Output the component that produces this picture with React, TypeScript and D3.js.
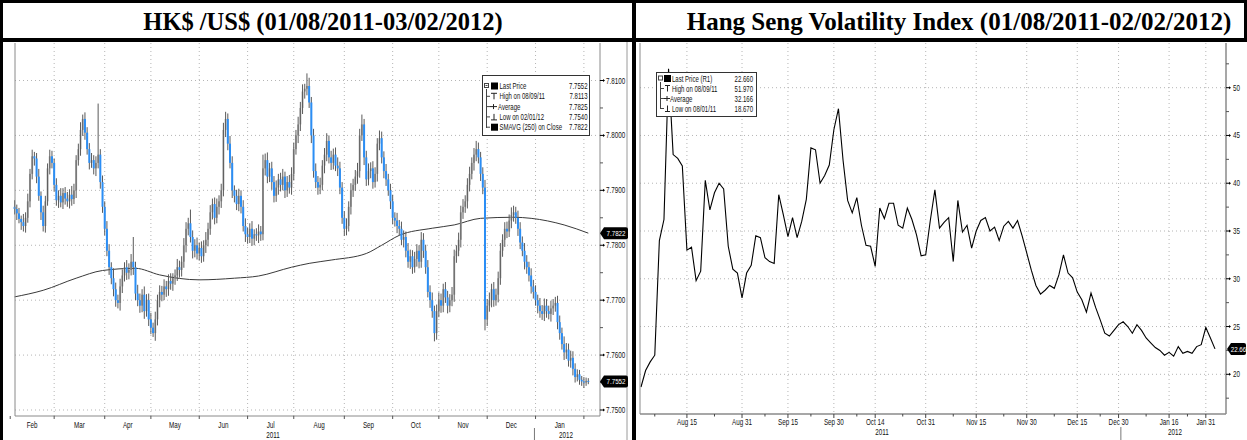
import React from "react";
import * as d3 from "d3";

// ---------- HK$/US$ daily bars (values in pips above 7.7000) ----------
const fxBase = 7.7;
const fxFirstOpen = 870;
const fxClose = [
  // Feb 2011 (from Feb 3)
  866, 858, 848, 842, 835, 850, 880, 930, 962, 958, 925, 890, 860, 835, 880, 940, 962, 950,
  // Mar
  910, 882, 890, 878, 895, 885, 880, 892, 884, 900, 955, 975, 1010, 1030, 1005, 975, 950, 955, 940, 950, 965, 915, 870,
  // Apr
  830, 790, 760, 740, 720, 700, 695, 725, 745, 760, 750, 755, 770, 760, 712, 700, 690, 710, 680, 700, 665,
  // May
  650, 640, 665, 700, 715, 710, 725, 720, 735, 730, 740, 745, 760, 755, 770, 800, 830, 840, 815, 790, 800, 785,
  // Jun
  795, 780, 800, 810, 830, 860, 875, 850, 870, 880, 900, 1010, 1030, 985, 950, 900, 890, 875, 890, 870, 835, 820,
  // Jul
  815, 830, 812, 820, 818, 825, 820, 940, 955, 925, 940, 915, 890, 905, 920, 910, 925, 900, 915, 905, 930,
  // Aug
  975, 1000, 1020, 1050, 1080, 1085, 1090, 1060, 1000, 935, 915, 905, 910, 945, 965, 990, 960, 950, 965, 945, 940, 905, 850,
  // Sep
  830, 835, 870, 900, 910, 925, 935, 1000, 1020, 960, 920, 935, 940, 915, 930, 985, 995, 960, 935, 920, 900, 880,
  // Oct
  850, 845, 835, 830, 810, 815, 790, 770, 780, 760, 775, 790, 770, 810, 790, 760, 715, 700, 680, 640, 680,
  // Nov
  700, 690, 720, 705, 690, 700, 710, 780, 790, 810, 860, 870, 880, 910, 930, 950, 965, 975, 960, 930, 905, 665,
  // Dec
  690, 700, 720, 700, 710, 740, 790, 810, 830, 825, 845, 855, 860, 850, 830, 805, 790, 770, 760, 745, 725, 715,
  // Jan 2012
  700, 690, 680, 675, 690, 680, 675, 685, 690, 695, 660, 640, 620, 605, 610, 590, 595, 575, 560, 565, 555, 552,
  // Feb 2012
  550, 553, 552,
];
const fxWickUp = [
  12, 8, 10, 6, 15, 10, 14, 9, 12, 8, 10, 14, 8, 12, 10, 9, 12, 10,
  8, 12, 10, 14, 9, 11, 12, 10, 16, 12, 9, 10, 14, 8, 12, 10, 11, 13, 9, 12, 93, 10, 12,
  10, 14, 12, 9, 18, 12, 10, 14, 11, 9, 13, 12, 14, 45, 10, 16, 12, 10, 15, 11, 12,
  12, 9, 14, 10, 12, 11, 13, 10, 12, 14, 9, 11, 15, 12, 10, 13, 12, 10, 25, 12, 11, 14,
  10, 12, 9, 14, 11, 13, 10, 12, 15, 11, 12, 13, 13, 10, 14, 12, 9, 11, 13, 10, 12, 14,
  12, 10, 14, 9, 11, 13, 10, 25, 12, 14, 10, 12, 11, 13, 10, 12, 14, 9, 11, 13, 12,
  12, 10, 14, 11, 13, 9, 23, 15, 10, 12, 14, 11, 13, 10, 12, 14, 10, 12, 11, 13, 15, 12, 10,
  12, 14, 10, 13, 11, 12, 15, 12, 18, 10, 12, 14, 11, 13, 12, 10, 14, 12, 11, 13, 10, 12,
  12, 10, 14, 11, 13, 12, 10, 14, 12, 11, 13, 12, 10, 14, 12, 11, 13, 12, 14, 10, 12,
  14, 12, 10, 13, 12, 11, 14, 12, 10, 13, 12, 14, 11, 12, 13, 10, 12, 15, 12, 10, 12, 14,
  12, 14, 10, 13, 11, 12, 14, 10, 12, 13, 11, 14, 12, 10, 13, 12, 11, 14, 12, 10, 13, 12,
  12, 10, 14, 11, 13, 12, 10, 14, 12, 11, 13, 12, 10, 14, 12, 11, 13, 12, 10, 9, 8, 7,
  8, 6, 5,
];
const fxWickDown = [
  10, 12, 8, 14, 10, 12, 9, 11, 10, 13, 12, 9, 14, 10, 12, 8, 11, 10,
  12, 10, 14, 9, 12, 11, 10, 13, 12, 9, 14, 10, 12, 11, 13, 10, 12, 9, 11, 14, 10, 12, 11,
  12, 10, 14, 11, 13, 12, 10, 14, 12, 11, 13, 12, 10, 14, 12, 11, 13, 12, 14, 10, 12,
  12, 7, 14, 11, 13, 12, 10, 14, 12, 11, 13, 12, 10, 14, 12, 11, 13, 12, 10, 14, 12, 11,
  13, 12, 10, 14, 12, 11, 13, 12, 10, 14, 12, 11, 13, 12, 10, 14, 12, 11, 13, 12, 10, 14,
  12, 11, 13, 12, 10, 14, 12, 11, 13, 12, 10, 14, 12, 11, 13, 12, 10, 14, 12, 11, 13,
  12, 10, 14, 12, 11, 13, 12, 10, 14, 12, 11, 13, 12, 10, 14, 12, 11, 13, 12, 10, 14, 12, 11,
  13, 12, 10, 14, 12, 11, 13, 12, 10, 14, 12, 11, 13, 12, 10, 14, 12, 11, 13, 12, 10, 14,
  12, 11, 13, 12, 10, 14, 12, 11, 13, 12, 10, 14, 12, 11, 13, 12, 10, 14, 12, 15, 12,
  11, 13, 12, 10, 14, 12, 11, 13, 12, 10, 14, 12, 11, 13, 12, 10, 14, 12, 11, 13, 12, 20,
  12, 11, 13, 12, 10, 14, 12, 11, 13, 12, 10, 14, 12, 11, 13, 12, 10, 14, 12, 11, 13, 12,
  10, 14, 12, 11, 13, 12, 10, 14, 12, 11, 13, 12, 10, 14, 12, 11, 13, 12, 10, 8, 9, 8,
  10, 6, 5,
];
// 250-day simple moving average readings (bar index, pips above 7.7000)
const smaIdx = [0, 13, 28, 40, 55, 66, 84, 100, 111, 126, 134, 144, 160, 167, 175, 190, 200, 212, 227, 235, 250, 261];
const smaVal = [706, 718, 740, 754, 758, 746, 737, 740, 744, 760, 767, 773, 785, 800, 818, 831, 837, 849, 851, 849, 837, 822];

const fxTicks = [7.75, 7.76, 7.77, 7.78, 7.79, 7.8, 7.81];
const fxMonthLabels = ["Feb", "Mar", "Apr", "May", "Jun", "Jul", "Aug", "Sep", "Oct", "Nov", "Dec", "Jan"];
const fxLegendLabels = ["Last Price", "High on 08/09/11", "Average", "Low on 02/01/12", "SMAVG (250) on Close"];
const fxLegendValues = ["7.7552", "7.8113", "7.7825", "7.7540", "7.7822"];
const fxTags = [{ v: 7.7822, t: "7.7822" }, { v: 7.7552, t: "7.7552" }];

// ---------- Hang Seng Volatility Index daily closes ----------
const vhsiValues = [
  18.67, 20.4, 21.3, 22.0, 34.0, 36.2, 51.97, 43.0, 42.6, 41.8,
  33.0, 33.3, 29.8, 30.8, 40.3, 37.2, 39.0, 40.0, 39.4, 33.4,
  31.0, 30.6, 28.0, 30.6, 31.4, 34.5, 34.3, 32.2, 31.8, 31.6,
  38.8, 36.7, 34.4, 36.4, 34.3, 36.0, 38.3, 43.7, 43.5, 40.0,
  40.8, 41.9, 45.6, 47.8, 42.4, 38.2, 36.9, 38.5, 35.6, 33.5,
  33.4, 31.3, 37.4, 36.3, 37.9, 37.9, 35.6, 35.3, 37.4, 36.2,
  34.6, 32.4, 32.5, 36.1, 39.3, 35.3, 35.9, 36.4, 31.8, 38.2,
  34.9, 35.6, 33.2, 35.0, 36.1, 36.4, 35.0, 35.4, 34.0, 35.5,
  36.0, 35.3, 36.1, 34.5, 32.7, 30.9, 29.3, 28.4, 28.8, 29.3,
  29.0, 30.4, 32.5, 30.6, 30.1, 28.6, 27.8, 26.5, 28.5, 27.0,
  25.7, 24.3, 24.0, 24.6, 25.2, 25.5, 25.0, 24.3, 25.2, 24.6,
  23.8, 23.3, 22.8, 22.5, 22.0, 22.3, 21.9, 22.9, 22.2, 22.4,
  22.2, 22.9, 23.1, 24.9, 23.8, 22.66,
];
const vhsiHolidays = ["2011-09-13", "2011-09-29", "2011-10-05", "2011-12-26", "2011-12-27", "2012-01-23", "2012-01-24", "2012-01-25"];
const vhsiTickDates = ["2011-08-15", "2011-08-31", "2011-09-15", "2011-09-30", "2011-10-14", "2011-10-31", "2011-11-15", "2011-11-30", "2011-12-15", "2011-12-30", "2012-01-16", "2012-01-31"];
const vhsiTickLabels = ["Aug 15", "Aug 31", "Sep 15", "Sep 30", "Oct 14", "Oct 31", "Nov 15", "Nov 30", "Dec 15", "Dec 30", "Jan 16", "Jan 31"];
const vhsiTicks = [20, 25, 30, 35, 40, 45, 50];
const vhsiLegendLabels = ["Last Price (R1)", "High on 08/09/11", "Average", "Low on 08/01/11"];
const vhsiLegendValues = ["22.660", "51.970", "32.166", "18.670"];

// ---------- helpers ----------
const DAY = 86400000;
const iso = (s: string) => Date.parse(s + "T00:00:00Z");
function tradingDays(start: string, end: string, holidays: string[] = []): number[] {
  const hs = new Set(holidays.map(iso));
  const out: number[] = [];
  for (let t = iso(start); t <= iso(end); t += DAY) {
    const wd = new Date(t).getUTCDay();
    if (wd !== 0 && wd !== 6 && !hs.has(t)) out.push(t);
  }
  return out;
}
const FONT = "'Liberation Sans','Arial',sans-serif";
const GRID = "#b5b5b5";
const AXIS = "#8a8a8a";

// narrow (horizontally compressed) small text, like the terminal bitmap font
function NT({ x, y, children, anchor = "start", size = 8.5, fill = "#111", sx = 0.74 }: any) {
  return (
    <text transform={`translate(${x},${y}) scale(${sx},1)`} fontSize={size} fontFamily={FONT} fill={fill} textAnchor={anchor}>
      {children}
    </text>
  );
}

function Tag({ x, y, text, w }: { x: number; y: number; text: string; w: number }) {
  return (
    <g>
      <path d={`M${x},${y} L${x + 4},${y - 6} L${x + w},${y - 6} Q${x + w + 2},${y - 6} ${x + w + 2},${y - 4} L${x + w + 2},${y + 4} Q${x + w + 2},${y + 6} ${x + w},${y + 6} L${x + 4},${y + 6} Z`} fill="#000" />
      <NT x={x + 4 + (w - 2) / 2} y={y + 3} anchor="middle" fill="#fff" size={8} sx={0.78}>{text}</NT>
    </g>
  );
}

function LeftChart() {
  const ext = tradingDays("2011-01-31", "2012-03-02");
  const off = ext.indexOf(iso("2011-02-03"));
  const wdIdx = (s: string) => ext.findIndex((t) => t >= iso(s)) - off;
  const n = fxClose.length;
  const xL = d3.scaleLinear().domain([0, 261]).range([14.6, 588.3]);
  const yL = d3.scaleLinear().domain([fxBase + 0.05, fxBase + 0.11]).range([410, 80.5]);
  const py = (p: number) => yL(fxBase + p / 10000);
  const top = 43, bottom = 416, left = 15, axisX = 600;

  const monthStarts = ["2011-02-01", "2011-03-01", "2011-04-01", "2011-05-02", "2011-06-01", "2011-07-01", "2011-08-01", "2011-09-01", "2011-10-03", "2011-11-01", "2011-12-01", "2012-01-02", "2012-02-01"].map(wdIdx);

  const bars = d3.range(n).map((i) => {
    const o = i === 0 ? fxFirstOpen : fxClose[i - 1];
    const c = fxClose[i];
    return { i, o, c, h: Math.max(o, c) + fxWickUp[i], l: Math.min(o, c) - fxWickDown[i] };
  });
  const sma = d3.line<number>().x((_, k) => xL(smaIdx[k])).y((v) => py(v)).curve(d3.curveMonotoneX)(smaVal) || "";
  const minor = d3.range(fxTicks.length - 1).map((k) => (fxTicks[k] + fxTicks[k + 1]) / 2);
  const yearSep = (xL(monthStarts[11]) + xL(monthStarts[11] - 1)) / 2;

  return (
    <g>
      {fxTicks.map((t) => (
        <line key={"hg" + t} x1={left} x2={axisX} y1={yL(t)} y2={yL(t)} stroke={GRID} strokeDasharray="1,3" />
      ))}
      {monthStarts.slice(1).map((m) => (
        <line key={"vg" + m} x1={xL(m)} x2={xL(m)} y1={top} y2={bottom} stroke={GRID} strokeDasharray="1,3" />
      ))}
      <path d={sma} fill="none" stroke="#3a3a3a" strokeWidth={1} />
      {bars.map((b) => {
        const down = b.c < b.o;
        const yT = py(Math.max(b.o, b.c));
        const yB = py(Math.min(b.o, b.c));
        const x = xL(b.i);
        const wick = <line x1={x} x2={x} y1={py(b.h)} y2={py(b.l)} stroke="#5a5a5a" strokeWidth={1} />;
        const body = <rect x={x - 1} y={yT} width={2} height={Math.max(1, yB - yT)} fill={down ? "#2b8ef5" : "#b0b0b0"} />;
        return down ? (
          <g key={b.i}>{wick}{body}</g>
        ) : (
          <g key={b.i}>{body}{wick}</g>
        );
      })}
      <line x1={left} x2={left} y1={top} y2={bottom} stroke={AXIS} />
      <line x1={left} x2={axisX} y1={bottom} y2={bottom} stroke={AXIS} />
      <line x1={axisX} x2={axisX} y1={top} y2={bottom} stroke={AXIS} />
      <line x1={627} x2={627} y1={41} y2={440} stroke="#9a9a9a" />
      {fxTicks.map((t) => (
        <g key={"yt" + t}>
          <line x1={axisX} x2={axisX + 3} y1={yL(t)} y2={yL(t)} stroke="#000" />
          <path d={`M${axisX + 3},${yL(t) - 1.5} L${axisX + 5},${yL(t)} L${axisX + 3},${yL(t) + 1.5} Z`} fill="#000" />
          <NT x={axisX + 6} y={yL(t) + 3}>{t.toFixed(4)}</NT>
        </g>
      ))}
      {minor.map((t) => (
        <line key={"ym" + t} x1={axisX} x2={axisX + 3} y1={yL(t)} y2={yL(t)} stroke="#555" />
      ))}
      {monthStarts.map((m) => (
        <line key={"xt" + m} x1={xL(m)} x2={xL(m)} y1={bottom} y2={bottom + 3} stroke="#555" />
      ))}
      {fxMonthLabels.map((lab, k) => (
        <NT key={lab + k} x={(xL(monthStarts[k]) + xL(monthStarts[k + 1])) / 2} y={428} anchor="middle">{lab}</NT>
      ))}
      <NT x={273} y={438} anchor="middle">2011</NT>
      <line x1={yearSep} x2={yearSep} y1={428} y2={440} stroke="#777" />
      <NT x={566} y={438} anchor="middle">2012</NT>
      {fxTags.map((tg) => (
        <Tag key={tg.t} x={axisX} y={yL(tg.v)} text={tg.t} w={26} />
      ))}
      {/* legend */}
      <rect x={482.5} y={75.5} width={107} height={60} fill="#fff" stroke="#333" />
      <line x1={486.5} x2={486.5} y1={89} y2={128} stroke="#444" />
      <rect x={484.5} y={83.5} width={4} height={4} fill="#fff" stroke="#444" />
      <line x1={485.5} x2={487.5} y1={85.5} y2={85.5} stroke="#444" />
      {fxLegendLabels.map((lab, k) => {
        const ry = 86 + k * 10.3;
        return (
          <g key={lab}>
            {k > 0 && <line x1={486.5} x2={490} y1={ry} y2={ry} stroke="#444" />}
            {(k === 0 || k === 4) && <rect x={491} y={ry - 3.5} width={7} height={7} fill="#000" />}
            {k === 1 && <path d={`M${491},${ry - 3} L${497},${ry - 3} M${494},${ry - 3} L${494},${ry + 3}`} stroke="#222" fill="none" />}
            {k === 2 && <path d={`M${490},${ry} L${497},${ry} M${493.5},${ry - 2.5} L${493.5},${ry + 2.5}`} stroke="#222" fill="none" />}
            {k === 3 && <path d={`M${494},${ry - 3} L${494},${ry + 3} M${491},${ry + 3} L${497},${ry + 3}`} stroke="#222" fill="none" />}
            <NT x={k === 2 ? 498 : 499.5} y={ry + 3} sx={0.71}>{lab}</NT>
            <NT x={587.5} y={ry + 3} anchor="end" sx={0.71}>{fxLegendValues[k]}</NT>
          </g>
        );
      })}
    </g>
  );
}

function RightChart() {
  const days = tradingDays("2011-08-01", "2012-02-02", vhsiHolidays);
  const n = vhsiValues.length;
  const xR = d3.scaleLinear().domain([0, n - 1]).range([641, 1215]);
  const yR = d3.scaleLinear().domain([20, 50]).range([374.3, 87.7]);
  const top = 43, bottom = 414, left = 640, axisX = 1226;
  const tickIdx = vhsiTickDates.map((s) => days.indexOf(iso(s)));
  const line = d3.line<number>().x((_, i) => xR(i)).y((v) => yR(v))(vhsiValues) || "";
  const minorY = [17.5, 22.5, 27.5, 32.5, 37.5, 42.5, 47.5, 52.5];
  const minorX = [3].concat(d3.range(tickIdx.length - 1).map((k) => Math.round((tickIdx[k] + tickIdx[k + 1]) / 2)));
  const firstJan = days.findIndex((t) => t >= iso("2012-01-01"));
  const yearSep = (xR(firstJan) + xR(firstJan - 1)) / 2;
  const last = vhsiValues[n - 1];
  return (
    <g>
      {vhsiTicks.map((t) => (
        <line key={"hg" + t} x1={left} x2={axisX} y1={yR(t)} y2={yR(t)} stroke={GRID} strokeDasharray="1,3" />
      ))}
      {tickIdx.map((i) => (
        <line key={"vg" + i} x1={xR(i)} x2={xR(i)} y1={top} y2={bottom} stroke={GRID} strokeDasharray="1,3" />
      ))}
      <path d={line} fill="none" stroke="#000" strokeWidth={1.1} />
      <line x1={left} x2={left} y1={top} y2={bottom} stroke={AXIS} />
      <line x1={left} x2={axisX} y1={bottom} y2={bottom} stroke={AXIS} strokeWidth={1.5} />
      <line x1={axisX} x2={axisX} y1={top} y2={bottom} stroke={AXIS} strokeWidth={1.5} />
      {vhsiTicks.map((t) => (
        <g key={"yt" + t}>
          <line x1={axisX} x2={axisX + 3} y1={yR(t)} y2={yR(t)} stroke="#000" />
          <path d={`M${axisX + 3},${yR(t) - 1.5} L${axisX + 5},${yR(t)} L${axisX + 3},${yR(t) + 1.5} Z`} fill="#000" />
          <NT x={axisX + 7} y={yR(t) + 3}>{t}</NT>
        </g>
      ))}
      {minorY.map((t) => (
        <line key={"ym" + t} x1={axisX} x2={axisX + 3} y1={yR(t)} y2={yR(t)} stroke="#555" />
      ))}
      {tickIdx.map((i) => (
        <line key={"xt" + i} x1={xR(i)} x2={xR(i)} y1={bottom} y2={bottom + 4} stroke="#444" />
      ))}
      {minorX.map((i) => (
        <line key={"xm" + i} x1={xR(i)} x2={xR(i)} y1={bottom} y2={bottom + 2.5} stroke="#444" />
      ))}
      {vhsiTickLabels.map((lab, k) => (
        <NT key={lab} x={xR(tickIdx[k])} y={425} anchor="middle">{lab}</NT>
      ))}
      <NT x={882} y={435} anchor="middle">2011</NT>
      <line x1={yearSep} x2={yearSep} y1={427} y2={440} stroke="#777" />
      <NT x={1175} y={435} anchor="middle">2012</NT>
      <Tag x={axisX + 1} y={yR(last)} text={last.toFixed(2)} w={17} />
      {/* legend */}
      <rect x={656.5} y={72.5} width={100} height={44} fill="#fff" stroke="#333" />
      <line x1={660.5} x2={660.5} y1={82} y2={109} stroke="#444" />
      <rect x={658.5} y={76} width={4} height={4} fill="#fff" stroke="#444" />
      {vhsiLegendLabels.map((lab, k) => {
        const ry = 78.5 + k * 10;
        return (
          <g key={lab}>
            {k > 0 && <line x1={660.5} x2={664} y1={ry} y2={ry} stroke="#444" />}
            {k === 0 && <rect x={664} y={ry - 3.5} width={7} height={7} fill="#000" />}
            {k === 1 && <path d={`M${665},${ry - 3} L${670},${ry - 3} M${667.5},${ry - 3} L${667.5},${ry + 3}`} stroke="#222" fill="none" />}
            {k === 2 && <path d={`M${664},${ry} L${670},${ry} M${667},${ry - 2.5} L${667},${ry + 2.5}`} stroke="#222" fill="none" />}
            {k === 3 && <path d={`M${667.5},${ry - 3} L${667.5},${ry + 3} M${665},${ry + 3} L${670},${ry + 3}`} stroke="#222" fill="none" />}
            <NT x={k === 2 ? 670 : 672} y={ry + 3} sx={0.71}>{lab}</NT>
            <NT x={753} y={ry + 3} anchor="end" sx={0.71}>{vhsiLegendValues[k]}</NT>
          </g>
        );
      })}
    </g>
  );
}

export default function App() {
  return (
    <div style={{ position: "absolute", left: 0, top: 0 }}>
      <svg width={1247} height={440} viewBox="0 0 1247 440" style={{ display: "block", background: "#fff" }}>
        <rect x={0} y={0} width={1247} height={440} fill="#fff" />
        <LeftChart />
        <RightChart />
        <rect x={0} y={0} width={3} height={440} fill="#000" />
        <rect x={632} y={0} width={4} height={440} fill="#000" />
        <rect x={0} y={0} width={1247} height={3} fill="#000" />
        <rect x={0} y={38} width={1247} height={4} fill="#000" />
        <rect x={1244} y={0} width={3} height={42} fill="#000" />
        <text x={323} y={30} fontSize={24.5} fontWeight="bold" fontFamily="'Liberation Serif','Times New Roman',serif" textAnchor="middle" fill="#000">HK$ /US$ (01/08/2011-03/02/2012)</text>
        <text x={959} y={30} fontSize={25} fontWeight="bold" fontFamily="'Liberation Serif','Times New Roman',serif" textAnchor="middle" fill="#000">Hang Seng Volatility Index (01/08/2011-02/02/2012)</text>
      </svg>
    </div>
  );
}
